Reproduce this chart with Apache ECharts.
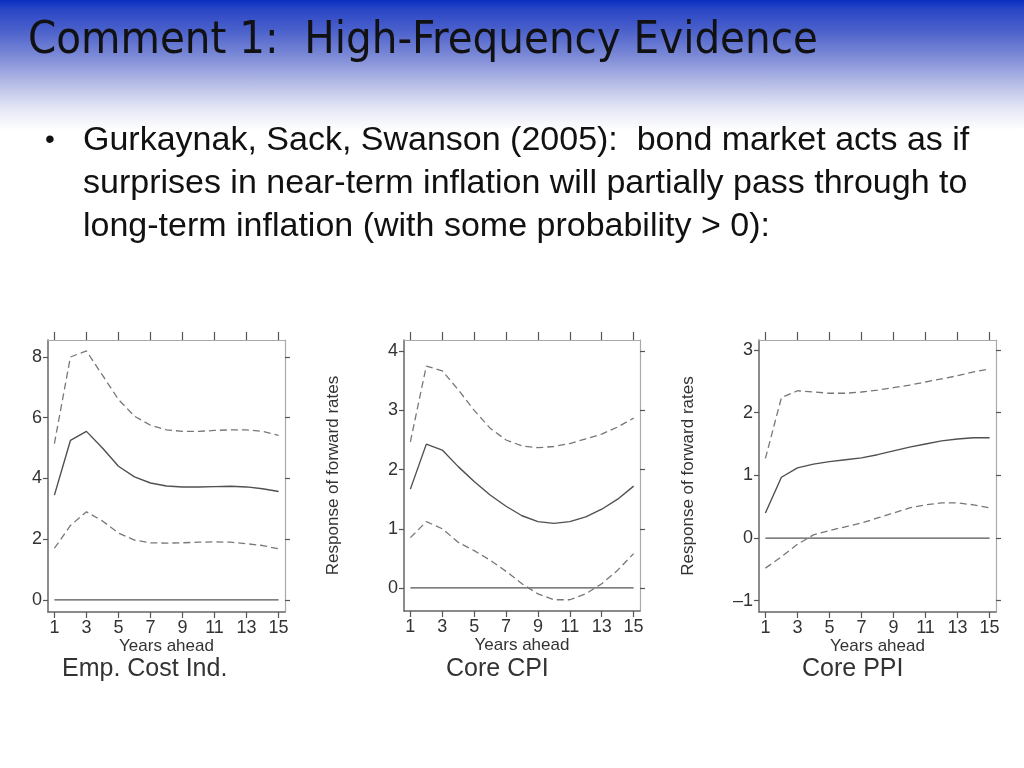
<!DOCTYPE html>
<html>
<head>
<meta charset="utf-8">
<script src="https://cdn.jsdelivr.net/npm/echarts@6/dist/echarts.min.js"></script>
<style>
  html, body { margin: 0; padding: 0; }
  #chart {
    width: 1024px; height: 768px;
    background: linear-gradient(to bottom, #0a2ec0 0px, #2b47c6 10px, #4a60cb 30px, #7a88d6 55px, #b3bae6 82px, #e4e6f5 108px, #ffffff 130px, #ffffff 768px);
  }
</style>
</head>
<body>
<div id="chart"></div>
<script>
// ---- data ----
const years = [1, 2, 3, 4, 5, 6, 7, 8, 9, 10, 11, 12, 13, 14, 15];
const xTicks = [1, 3, 5, 7, 9, 11, 13, 15];

const eciUpper = [5.15, 8.0, 8.2, 7.4, 6.6, 6.05, 5.75, 5.6, 5.55, 5.55, 5.58, 5.6, 5.6, 5.55, 5.42];
const eciMid   = [3.45, 5.25, 5.55, 5.0, 4.4, 4.05, 3.85, 3.75, 3.72, 3.72, 3.73, 3.74, 3.72, 3.66, 3.57];
const eciLower = [1.7, 2.45, 2.9, 2.6, 2.2, 1.97, 1.88, 1.87, 1.88, 1.9, 1.91, 1.9, 1.85, 1.79, 1.68];

const cpiUpper = [2.47, 3.75, 3.67, 3.35, 3.0, 2.7, 2.5, 2.4, 2.37, 2.39, 2.44, 2.52, 2.6, 2.72, 2.87];
const cpiMid   = [1.67, 2.43, 2.33, 2.05, 1.8, 1.57, 1.38, 1.22, 1.12, 1.09, 1.12, 1.2, 1.33, 1.5, 1.72];
const cpiLower = [0.85, 1.12, 1.0, 0.77, 0.63, 0.47, 0.28, 0.07, -0.1, -0.2, -0.2, -0.1, 0.07, 0.3, 0.58];

const ppiUpper = [1.27, 2.24, 2.35, 2.33, 2.31, 2.31, 2.33, 2.36, 2.4, 2.44, 2.49, 2.54, 2.59, 2.65, 2.7];
const ppiMid   = [0.4, 0.97, 1.12, 1.18, 1.22, 1.25, 1.28, 1.33, 1.39, 1.45, 1.5, 1.55, 1.58, 1.6, 1.6];
const ppiLower = [-0.48, -0.3, -0.1, 0.05, 0.12, 0.18, 0.24, 0.32, 0.4, 0.48, 0.53, 0.56, 0.56, 0.53, 0.48];

const zeroLine = [0, 0, 0, 0, 0, 0, 0, 0, 0, 0, 0, 0, 0, 0, 0];

const eciYTicks = [0, 2, 4, 6, 8];
const cpiYTicks = [0, 1, 2, 3, 4];
const ppiYTicks = [-1, 0, 1, 2, 3];

const panelNames = ['Emp. Cost Ind.', 'Core CPI', 'Core PPI'];
const xName = 'Years ahead';
const yName = 'Response of forward rates';

const titleText = 'Comment 1:  High-Frequency Evidence';
const bulletLines = [
  'Gurkaynak, Sack, Swanson (2005):  bond market acts as if',
  'surprises in near-term inflation will partially pass through to',
  'long-term inflation (with some probability > 0):'
];

// ---- layout ----
const panels = [
  { grid: { left: 48, width: 237, top: 340, height: 272 }, yMin: -0.4, yMax: 8.56, yTicks: eciYTicks, yName: '', sets: [eciUpper, eciMid, eciLower], titleLeft: 57 },
  { grid: { left: 404, width: 236, top: 340, height: 271 }, yMin: -0.39, yMax: 4.19, yTicks: cpiYTicks, yName: yName, sets: [cpiUpper, cpiMid, cpiLower], titleLeft: 441 },
  { grid: { left: 759, width: 237, top: 340, height: 272 }, yMin: -1.18, yMax: 3.16, yTicks: ppiYTicks, yName: yName, sets: [ppiUpper, ppiMid, ppiLower], titleLeft: 797 }
];

const FONT = 'Liberation Sans, Arial, sans-serif';
const grids = [], xAxes = [], yAxes = [], series = [], titles = [];

titles.push({
  text: titleText, left: 23, top: 14,
  textStyle: { fontFamily: 'DejaVu Sans Condensed, sans-serif', fontSize: 45, fontWeight: 'normal', color: '#111' }
});
titles.push({
  text: '•', left: 40, top: 121,
  textStyle: { fontFamily: FONT, fontSize: 28, fontWeight: 'normal', color: '#111' }
});
titles.push({
  text: bulletLines.join('\n'), left: 78, top: 114,
  textStyle: { fontFamily: FONT, fontSize: 34, fontWeight: 'normal', color: '#111', lineHeight: 43 }
});

const pairs = arr => years.map((x, i) => [x, arr[i]]);

panels.forEach((p, i) => {
  grids.push(Object.assign({ show: false }, p.grid));
  titles.push({
    text: panelNames[i], left: p.titleLeft, top: 652,
    textStyle: { fontFamily: FONT, fontSize: 25, fontWeight: 'normal', color: '#333' }
  });
  // bottom x axis
  xAxes.push({
    gridIndex: i, type: 'value', position: 'bottom', min: 0.6, max: 15.4,
    axisLine: { show: true, onZero: false, lineStyle: { color: '#666', width: 1.5 } },
    axisTick: { show: true, customValues: xTicks, length: 6, lineStyle: { color: '#555', width: 1.2 } },
    axisLabel: { customValues: xTicks, fontSize: 18, color: '#333', margin: 7, fontFamily: FONT },
    splitLine: { show: false },
    name: xName, nameLocation: 'middle', nameGap: 25,
    nameTextStyle: { fontSize: 17, color: '#333', fontFamily: FONT }
  });
  // top x axis (frame + ticks)
  xAxes.push({
    gridIndex: i, type: 'value', position: 'top', min: 0.6, max: 15.4,
    axisLine: { show: true, onZero: false, lineStyle: { color: '#aaa', width: 1.2 } },
    axisTick: { show: true, customValues: xTicks, length: 8, lineStyle: { color: '#555', width: 1.2 } },
    axisLabel: { show: false },
    splitLine: { show: false }
  });
  // left y axis
  yAxes.push({
    gridIndex: i, type: 'value', position: 'left', min: p.yMin, max: p.yMax,
    axisLine: { show: true, onZero: false, lineStyle: { color: '#666', width: 1.5 } },
    axisTick: { show: true, customValues: p.yTicks, length: 5, lineStyle: { color: '#555', width: 1.2 } },
    axisLabel: { customValues: p.yTicks, fontSize: 18, color: '#333', margin: 6, fontFamily: FONT,
      formatter: v => (v < 0 ? '\u2013' + Math.abs(v) : String(v)) },
    splitLine: { show: false },
    name: p.yName, nameLocation: 'middle', nameRotate: 90, nameGap: 62,
    nameTextStyle: { fontSize: 17, color: '#333', fontFamily: FONT }
  });
  // right y axis (frame + ticks)
  yAxes.push({
    gridIndex: i, type: 'value', position: 'right', min: p.yMin, max: p.yMax,
    axisLine: { show: true, onZero: false, lineStyle: { color: '#aaa', width: 1.2 } },
    axisTick: { show: true, customValues: p.yTicks, length: 5, lineStyle: { color: '#555', width: 1.2 } },
    axisLabel: { show: false },
    splitLine: { show: false }
  });
  const xi = i * 2, yi = i * 2;
  const base = { type: 'line', xAxisIndex: xi, yAxisIndex: yi, symbol: 'none', silent: true };
  series.push(Object.assign({}, base, { data: pairs(zeroLine), lineStyle: { color: '#555', width: 1.2 } }));
  series.push(Object.assign({}, base, { data: pairs(p.sets[0]), lineStyle: { color: '#777', width: 1.3, type: [7, 4] } }));
  series.push(Object.assign({}, base, { data: pairs(p.sets[1]), lineStyle: { color: '#505050', width: 1.4 } }));
  series.push(Object.assign({}, base, { data: pairs(p.sets[2]), lineStyle: { color: '#777', width: 1.3, type: [7, 4] } }));
});

const chart = echarts.init(document.getElementById('chart'), null, { renderer: 'canvas' });
chart.setOption({
  backgroundColor: 'transparent',
  animation: false,
  title: titles,
  grid: grids,
  xAxis: xAxes,
  yAxis: yAxes,
  series: series
});
</script>
</body>
</html>
